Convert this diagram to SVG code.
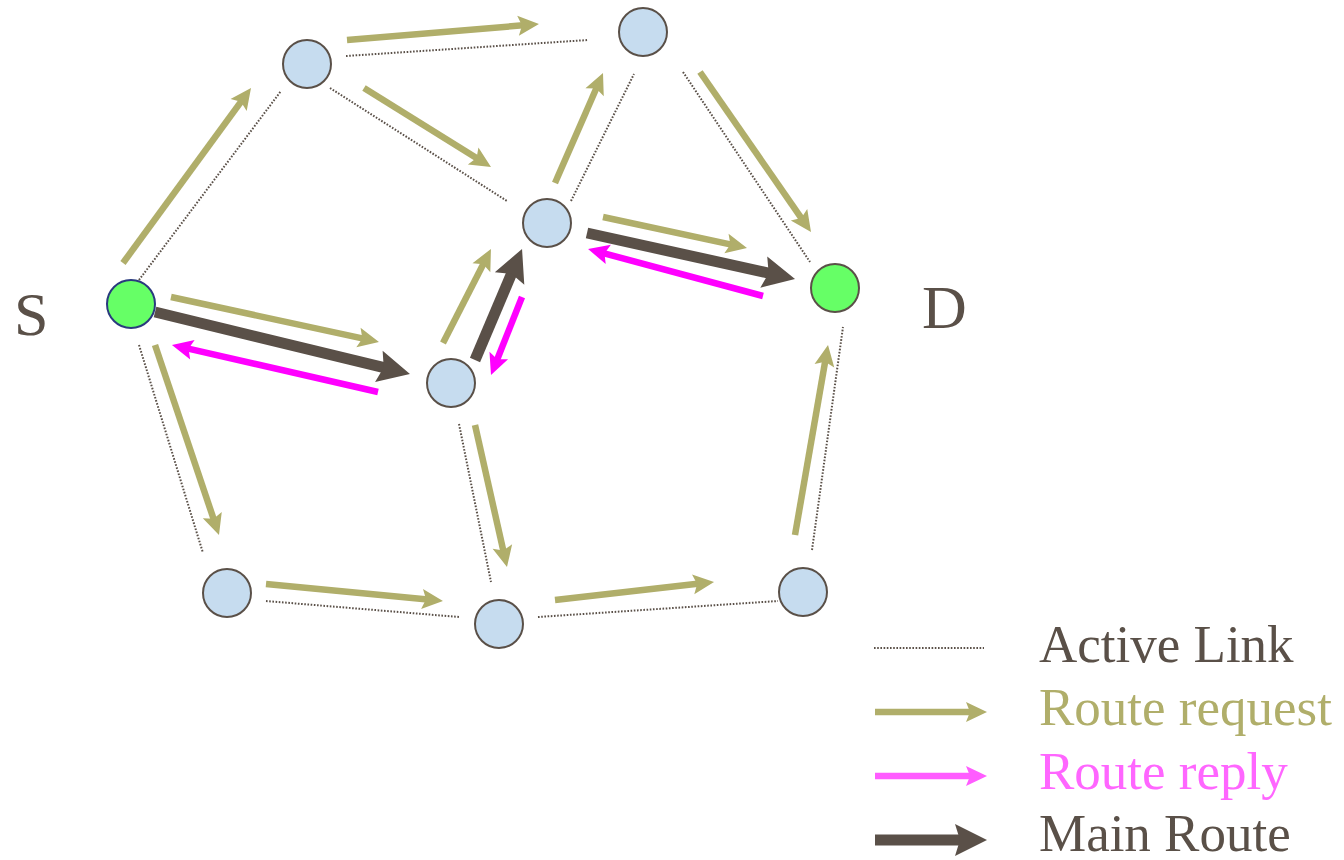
<svg xmlns="http://www.w3.org/2000/svg" width="1344" height="860" viewBox="0 0 1344 860">
  <style>
    .node { fill: #c6dcef; stroke: #5a5048; stroke-width: 2; }
    .term { fill: #66ff66; stroke-width: 2; }
    .link { fill: none; stroke: #5a5048; stroke-width: 2; stroke-dasharray: 1.6 1.6; }
    .req { stroke: #b0ae6a; stroke-width: 6.5; fill: none; marker-end: url(#headReq); }
    .rep { stroke: #ff00ff; stroke-width: 6.5; fill: none; marker-end: url(#headRep); }
    .repLegend { stroke: #ff5cff; stroke-width: 6.5; fill: none; marker-end: url(#headRepLegend); }
    .main { stroke: #5a5048; stroke-width: 11; fill: none; marker-end: url(#headMain); }
    .label { font-family: "Liberation Serif", "Times New Roman", serif; }
  </style>
  <defs>
    <!-- heads: tip sits 10 (thin) / 16 (thick) units beyond the end of the shaft -->
    <marker id="headReq" markerUnits="userSpaceOnUse" orient="auto" overflow="visible" refX="-10" refY="0" markerWidth="1" markerHeight="1">
      <path d="M0,0 L-21,-10 L-17,0 L-21,10 Z" fill="#b0ae6a"/>
    </marker>
    <marker id="headRep" markerUnits="userSpaceOnUse" orient="auto" overflow="visible" refX="-10" refY="0" markerWidth="1" markerHeight="1">
      <path d="M0,0 L-21,-10 L-17,0 L-21,10 Z" fill="#ff00ff"/>
    </marker>
    <marker id="headRepLegend" markerUnits="userSpaceOnUse" orient="auto" overflow="visible" refX="-10" refY="0" markerWidth="1" markerHeight="1">
      <path d="M0,0 L-21,-10 L-17,0 L-21,10 Z" fill="#ff5cff"/>
    </marker>
    <marker id="headMain" markerUnits="userSpaceOnUse" orient="auto" overflow="visible" refX="-16" refY="0" markerWidth="1" markerHeight="1">
      <path d="M0,0 L-32,-16 L-27,0 L-32,16 Z" fill="#5a5048"/>
    </marker>
  </defs>

  <rect width="1344" height="860" fill="#ffffff"/>

  <g id="connectors">
    <!-- active links -->
    <g id="links">
      <line class="link" x1="139" y1="280" x2="281" y2="91"/>
      <line class="link" x1="346" y1="56" x2="588" y2="40"/>
      <line class="link" x1="330" y1="88" x2="507" y2="201"/>
      <line class="link" x1="571" y1="201" x2="634" y2="74"/>
      <line class="link" x1="683" y1="72" x2="810" y2="262"/>
      <line class="link" x1="139" y1="345" x2="203" y2="553"/>
      <line class="link" x1="459" y1="424" x2="491" y2="582"/>
      <line class="link" x1="266" y1="601" x2="459" y2="617"/>
      <line class="link" x1="538" y1="617" x2="778" y2="601"/>
      <line class="link" x1="812" y1="550" x2="843" y2="327"/>
    </g>
    <!-- route request flood -->
    <g id="requests">
      <line class="req" x1="123" y1="263" x2="245.1" y2="96.1"/>
      <line class="req" x1="347" y1="40" x2="529" y2="24.8"/>
      <line class="req" x1="364" y1="88" x2="482.5" y2="161.7"/>
      <line class="req" x1="555" y1="183" x2="599" y2="82.2"/>
      <line class="req" x1="700" y1="72" x2="805.3" y2="223.8"/>
      <line class="req" x1="603" y1="217" x2="737.2" y2="245.9"/>
      <line class="req" x1="171" y1="297" x2="369.2" y2="339.9"/>
      <line class="req" x1="443" y1="343" x2="486.4" y2="257.9"/>
      <line class="req" x1="155" y1="345" x2="215.8" y2="525.5"/>
      <line class="req" x1="475" y1="425" x2="504.8" y2="557.3"/>
      <line class="req" x1="266" y1="584" x2="433" y2="600"/>
      <line class="req" x1="555" y1="600" x2="704.1" y2="583.1"/>
      <line class="req" x1="795" y1="535" x2="826.3" y2="354.9"/>
    </g>
    <!-- main route -->
    <g id="main-route">
      <line class="main" x1="155" y1="312" x2="394.4" y2="370.2"/>
      <line class="main" x1="475" y1="360" x2="515.8" y2="263.7"/>
      <line class="main" x1="587" y1="233" x2="779.4" y2="275.5"/>
    </g>
    <!-- route reply -->
    <g id="replies">
      <line class="rep" x1="763" y1="296" x2="597.7" y2="251.6"/>
      <line class="rep" x1="522" y1="297" x2="494.7" y2="365.7"/>
      <line class="rep" x1="378" y1="392" x2="181.7" y2="347.2"/>
    </g>
  </g>

  <g id="node-S"><circle class="term" cx="131" cy="304" r="24" stroke="#2a3a7e"/></g>
  <g id="node-n1"><circle class="node" cx="307" cy="64" r="24"/></g>
  <g id="node-n2"><circle class="node" cx="643" cy="32" r="24"/></g>
  <g id="node-n3"><circle class="node" cx="547" cy="223" r="24"/></g>
  <g id="node-D"><circle class="term" cx="835" cy="288" r="24" stroke="#5a5048"/></g>
  <g id="node-n4"><circle class="node" cx="451" cy="383" r="24"/></g>
  <g id="node-b1"><circle class="node" cx="227" cy="593" r="24"/></g>
  <g id="node-b2"><circle class="node" cx="499" cy="624" r="24"/></g>
  <g id="node-b3"><circle class="node" cx="803" cy="592" r="24"/></g>

  <g id="labels" class="label" font-size="62" fill="#5a5048">
    <text x="14" y="335">S</text>
    <text x="922" y="328">D</text>
  </g>

  <g id="legend">
    <line class="link" x1="874" y1="648" x2="984" y2="648"/>
    <line class="req" x1="875" y1="712" x2="977" y2="712"/>
    <line class="repLegend" x1="875" y1="776" x2="977" y2="776"/>
    <line class="main" x1="875" y1="840" x2="971" y2="840"/>
    <g class="label" font-size="53">
      <text x="1039" y="662" fill="#5a5048">Active Link</text>
      <text x="1039" y="725" fill="#b0ae6a">Route request</text>
      <text x="1039" y="789" fill="#ff66ff">Route reply</text>
      <text x="1039" y="851" fill="#5a5048">Main Route</text>
    </g>
  </g>
</svg>
